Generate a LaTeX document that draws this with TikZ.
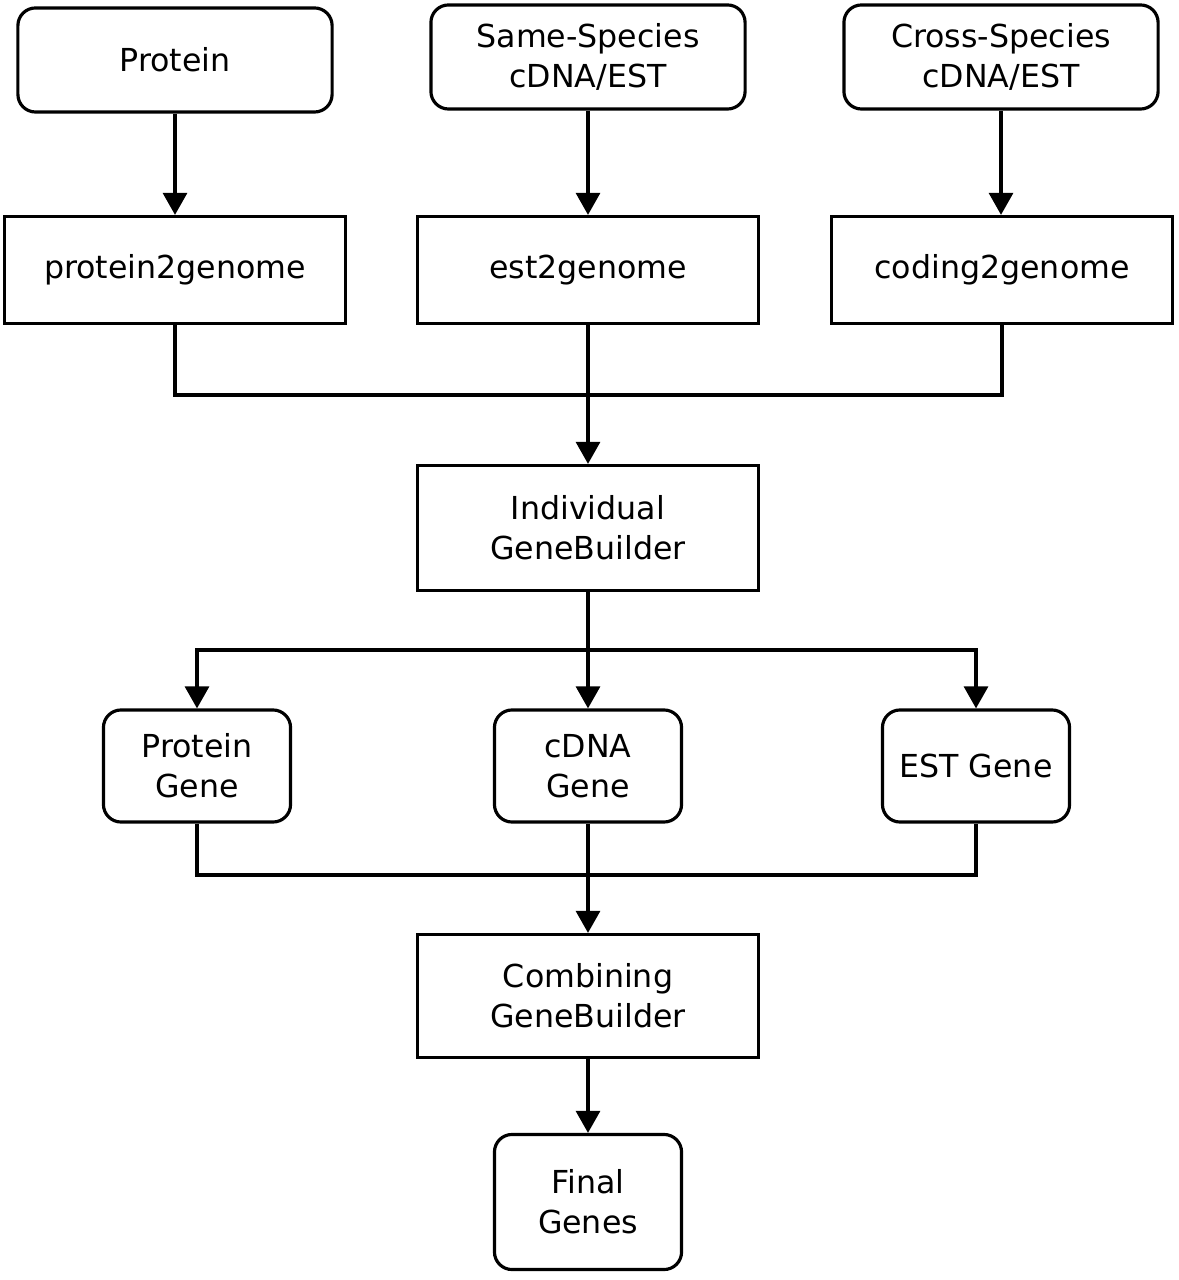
\documentclass[tikz,border=0pt]{standalone}
\usepackage{fontspec}
\setmainfont{DejaVu Sans}
\usetikzlibrary{arrows.meta,positioning}
\tikzset{
  srcbox/.style={draw=black, line width=0.9pt, rounded corners=5pt,
        minimum width=3.14cm, minimum height=1.04cm, align=center,
        font=\fontsize{9}{11.4}\selectfont},
  toolbox/.style={draw=black, line width=0.9pt,
        minimum width=3.41cm, minimum height=1.07cm, align=center,
        font=\fontsize{9}{11.4}\selectfont},
  genebox/.style={draw=black, line width=0.9pt, rounded corners=5pt,
        minimum width=1.87cm, minimum height=1.12cm, align=center,
        font=\fontsize{9}{11.4}\selectfont},
  flow/.style={-{Triangle[length=2.2mm, width=2.4mm]}, line width=0.9pt, draw=black},
  link/.style={line width=0.9pt, draw=black}
}
\begin{document}
\begin{tikzpicture}[x=0.01cm, y=-0.01cm]
\useasboundingbox (0,0) rectangle (1178,1280);

% input sources
\node[srcbox] (prot) at (175,60) {Protein};
\node[srcbox] (same) at (588,57) {Same-Species\\cDNA/EST};
\node[srcbox] (cross) at (1001,57) {Cross-Species\\cDNA/EST};

% alignment tools
\node[toolbox] (p2g) at (175,270) {protein2genome};
\node[toolbox] (e2g) at (588,270) {est2genome};
\node[toolbox] (c2g) at (1002,270) {coding2genome};

\node[toolbox, minimum height=1.25cm] (igb) at (588,528) {Individual\\GeneBuilder};

% gene sets
\node[genebox] (pgene) at (197,766) {Protein\\Gene};
\node[genebox] (cgene) at (588,766) {cDNA\\Gene};
\node[genebox] (egene) at (976,766) {EST Gene};

\node[toolbox, minimum height=1.23cm] (cgb) at (588,996) {Combining\\GeneBuilder};
\node[genebox, minimum height=1.35cm] (fin) at (588,1202) {Final\\Genes};

% junctions
\coordinate (join1) at (588,395);
\coordinate (split1) at (588,650);
\coordinate (join2) at (588,875);

% sources to tools
\draw[flow] (prot) -- (p2g);
\draw[flow] (same) -- (e2g);
\draw[flow] (cross.south) -- (cross.south |- c2g.north);

% tools to individual genebuilder
\draw[link] (p2g.south) |- (join1) -| (c2g.south);
\draw[flow] (e2g) -- (igb);

% individual genebuilder to gene sets
\draw[link] (igb.south) -- (split1);
\foreach \g in {pgene,cgene,egene}
  \draw[flow] (split1) -| (\g.north);

% gene sets to combining genebuilder
\draw[link] (pgene.south) |- (join2) -| (egene.south);
\draw[flow] (cgene) -- (cgb);
\draw[flow] (cgb) -- (fin);
\end{tikzpicture}
\end{document}
